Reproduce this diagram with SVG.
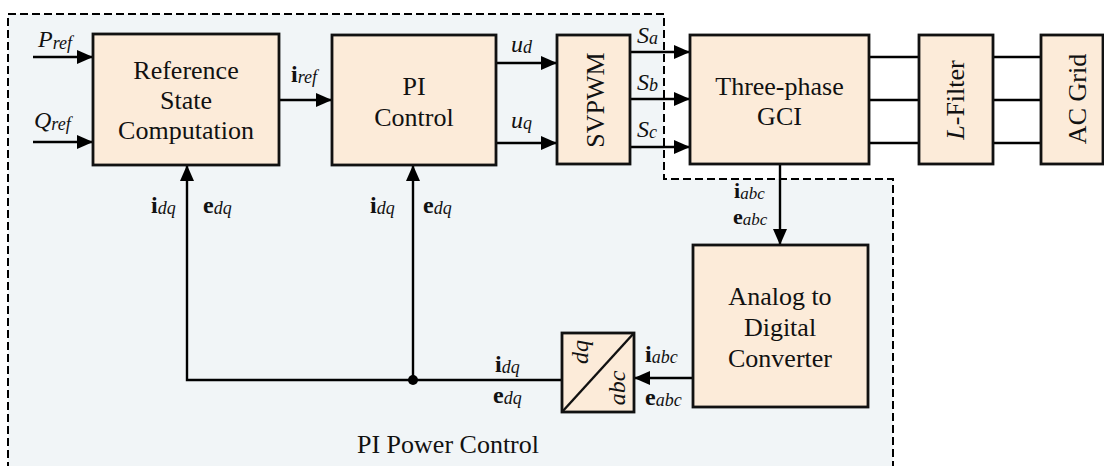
<svg xmlns="http://www.w3.org/2000/svg" width="1104" height="466" viewBox="0 0 1104 466">
<defs>
<marker id="ah" markerUnits="userSpaceOnUse" markerWidth="16" markerHeight="14" refX="16" refY="7" orient="auto">
<path d="M0,0 L16,7 L0,14 z" fill="#000"/>
</marker>
<style>
text{font-family:'Liberation Serif','Times New Roman','DejaVu Serif',serif}
.box{fill:#fcebd9;stroke:#111;stroke-width:2.8}
.t{font-size:26px;fill:#111;text-anchor:middle}
.lbl{font-size:24px;fill:#111}
.it{font-style:italic}
.b{font-weight:bold}
.sub{font-size:18px;font-style:italic;font-weight:normal}
.ln{fill:none;stroke:#000;stroke-width:2.4}
.ar{fill:none;stroke:#000;stroke-width:2.4;marker-end:url(#ah)}
</style>
</defs>
<rect x="0" y="0" width="1104" height="466" fill="#fff"/>
<g id="region">
<path d="M8,470 L8,14 L664,14 L664,179 L893,179 L893,470" fill="#f1f5f7" stroke="#000" stroke-width="2" stroke-dasharray="8,4"/>
<text class="t" x="448" y="453">PI Power Control</text>
</g>
<g id="connectors">
<line class="ar" x1="33" y1="57" x2="93" y2="57"/>
<line class="ar" x1="33" y1="142" x2="93" y2="142"/>
<line class="ar" x1="279" y1="100" x2="332" y2="100"/>
<line class="ar" x1="496" y1="63" x2="557" y2="63"/>
<line class="ar" x1="496" y1="143" x2="557" y2="143"/>
<line class="ar" x1="630" y1="52" x2="690" y2="52"/>
<line class="ar" x1="630" y1="99" x2="690" y2="99"/>
<line class="ar" x1="630" y1="147" x2="690" y2="147"/>
<line class="ln" x1="869" y1="57" x2="919" y2="57"/>
<line class="ln" x1="869" y1="100" x2="919" y2="100"/>
<line class="ln" x1="869" y1="143" x2="919" y2="143"/>
<line class="ln" x1="993" y1="57" x2="1041" y2="57"/>
<line class="ln" x1="993" y1="100" x2="1041" y2="100"/>
<line class="ln" x1="993" y1="143" x2="1041" y2="143"/>
<line class="ar" x1="780" y1="164" x2="780" y2="245"/>
<line class="ar" x1="693" y1="378" x2="634" y2="378"/>
<path class="ar" d="M562,380 L187,380 L187,165"/>
<line class="ar" x1="413" y1="380" x2="413" y2="165"/>
<circle cx="413" cy="380" r="5" fill="#000"/>
<text class="lbl it" x="38" y="47">P<tspan class="sub" dy="2">ref</tspan></text>
<text class="lbl it" x="34" y="128">Q<tspan class="sub" dy="2">ref</tspan></text>
<text class="lbl b" x="291" y="82">i<tspan class="sub" dy="1">ref</tspan></text>
<text class="lbl b" x="151" y="213">i<tspan class="sub" dy="1">dq</tspan></text>
<text class="lbl b" x="203" y="213">e<tspan class="sub" dy="1">dq</tspan></text>
<text class="lbl b" x="370" y="213">i<tspan class="sub" dy="1">dq</tspan></text>
<text class="lbl b" x="423" y="213">e<tspan class="sub" dy="1">dq</tspan></text>
<text class="lbl it" x="511" y="52">u<tspan class="sub" dy="1">d</tspan></text>
<text class="lbl it" x="511" y="128">u<tspan class="sub" dy="1">q</tspan></text>
<text class="lbl it" x="637" y="43">S<tspan class="sub" dy="1">a</tspan></text>
<text class="lbl it" x="637" y="90">S<tspan class="sub" dy="1">b</tspan></text>
<text class="lbl it" x="637" y="137">S<tspan class="sub" dy="1">c</tspan></text>
<text class="lbl b" x="734" y="198" style="font-size:22px">i<tspan class="sub" dy="1" style="font-size:17px">abc</tspan></text>
<text class="lbl b" x="733" y="224" style="font-size:22px">e<tspan class="sub" dy="1" style="font-size:17px">abc</tspan></text>
<text class="lbl b" x="495" y="372">i<tspan class="sub" dy="1">dq</tspan></text>
<text class="lbl b" x="493" y="403">e<tspan class="sub" dy="1">dq</tspan></text>
<text class="lbl b" x="645" y="362">i<tspan class="sub" dy="1">abc</tspan></text>
<text class="lbl b" x="645" y="405">e<tspan class="sub" dy="1">abc</tspan></text>
</g>
<g id="ref">
<rect class="box" x="93" y="34" width="186" height="131"/>
<text class="t" x="186" y="79">Reference</text>
<text class="t" x="186" y="109">State</text>
<text class="t" x="186" y="139">Computation</text>
</g>
<g id="pi">
<rect class="box" x="332" y="35" width="164" height="130"/>
<text class="t" x="414" y="95">PI</text>
<text class="t" x="414" y="126">Control</text>
</g>
<g id="svpwm">
<rect class="box" x="557" y="35" width="73" height="129"/>
<text class="t" transform="translate(604,100) rotate(-90)">SVPWM</text>
</g>
<g id="gci">
<rect class="box" x="690" y="35" width="179" height="129"/>
<text class="t" x="779.5" y="95">Three-phase</text>
<text class="t" x="779.5" y="125">GCI</text>
</g>
<g id="lfilter">
<rect class="box" x="919" y="35" width="74" height="129"/>
<text class="t" transform="translate(964,100) rotate(-90)"><tspan font-style="italic">L</tspan>-Filter</text>
</g>
<g id="acgrid">
<rect class="box" x="1041" y="35" width="62" height="129"/>
<text class="t" transform="translate(1086,99) rotate(-90)">AC Grid</text>
</g>
<g id="adc">
<rect class="box" x="693" y="245" width="175" height="162"/>
<text class="t" x="780" y="305">Analog to</text>
<text class="t" x="780" y="336">Digital</text>
<text class="t" x="780" y="367">Converter</text>
</g>
<g id="dqabc">
<rect class="box" x="562" y="333" width="72" height="79"/>
<line x1="562" y1="412" x2="634" y2="333" stroke="#111" stroke-width="2.4"/>
<text class="t it" style="font-size:24px" transform="translate(588,352) rotate(-90)">dq</text>
<text class="t it" style="font-size:24px" transform="translate(625,388) rotate(-90)">abc</text>
</g>
</svg>
